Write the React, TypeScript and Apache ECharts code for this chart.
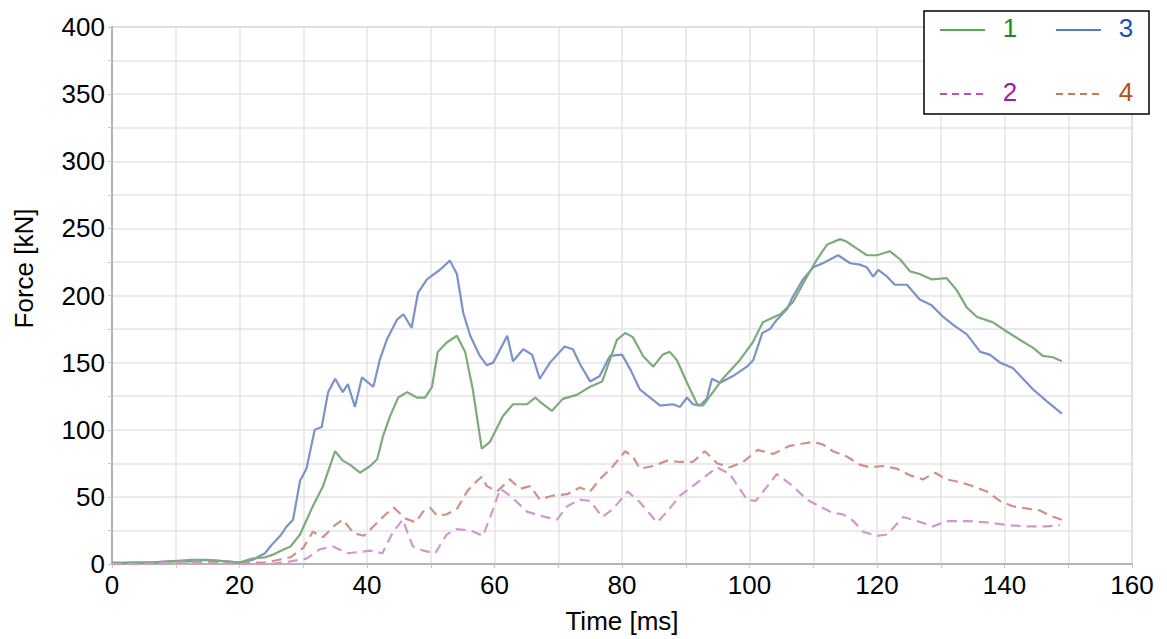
import React, { useEffect, useRef } from "react";
import * as echarts from "echarts";

const time1 = [0,3,6,9,12,15,18,20,22,24,25.3,27,28,29.5,31.5,33.1,35,36.2,37.3,38.9,40.5,41.6,42.5,43.6,44.9,46.3,47.8,49.1,50.2,51.1,52.5,54.1,55.4,56.6,58,59.3,61.3,62.9,65.1,66.4,67.1,69,70.7,72.9,75,76.9,78.1,79.2,80.5,81.7,83.3,84.9,86.4,87.5,88.6,90.2,91.8,92.7,93.8,95.8,98.5,100.5,102.1,104.8,106.8,109,110.6,112.2,114.2,115.3,116.5,118.4,120,122,123.6,125.2,126.7,128.6,130.9,132.5,134.1,135.7,138.2,140.4,142.4,144.5,146,147.6,149];
const force1 = [1,1,1,2,3,3,2,1,4,5,7,11,13,22,43,58,84,77,74,68,73,78,95,110,124,128,124,124,132,158,165,170,158,130,86,91,110,119,119,124,121,114,123,126,132,136,152,167,172,169,155,147,156,158,152,135,119,118,125,138,152,165,180,186,195,214,227,238,242,240,236,230,230,233,227,218,216,212,213,204,191,184,180,173,167,161,155,154,151];

const time3 = [0,3,6,9,12,15,18,20,22,24,25,26.4,27.4,28.4,29.5,30.5,31.8,32.9,33.9,35,36.2,37,38.1,39.2,41,42,43.1,44.7,45.7,47,48,49.4,51.4,53,54.1,55.1,56.2,57.7,58.8,59.8,62,62.9,64.5,65.9,67.1,68.7,71,72.3,73.4,75,76.5,78.1,80,81.3,82.8,84.4,86,88,89.1,90.2,91.1,92.2,93.3,94.1,95.4,97.4,99.6,100.6,102,103.2,104.3,105.9,106.8,108.4,110,111.5,113.9,115.8,117.3,118.4,119.4,120.2,121.6,122.8,124.7,126.7,128.5,130.4,132,134.1,136.2,137.7,139.3,141.3,142.9,144.5,146.7,149];
const force3 = [0,1,1,2,2,3,2,1,3,8,14,21,28,33,62,71,100,102,128,138,128,134,117,139,132,152,167,182,186,176,202,212,219,226,216,187,170,155,148,150,170,151,160,156,138,150,162,160,149,136,140,155,156,145,130,124,118,119,117,124,119,118,123,138,135,140,147,152,172,175,182,190,199,212,221,224,230,224,223,221,214,219,214,208,208,197,193,184,178,171,158,156,150,146,138,130,121,112];

const time2 = [0,5,10,15,20,25,28,30.5,32.6,34.7,36.9,38.9,40.5,42.4,44.1,45.6,47.2,48.8,50.7,52.5,54.1,56.2,58.2,59.8,60.9,62.4,65.1,67.1,69.8,71.4,73.4,75,76.9,78.6,80.9,82.8,85.5,87.1,89.1,91.1,94.9,96.9,99.6,101,104.3,106.8,109,111,113.1,114.7,116.3,117.8,120,121.6,124.1,126.3,128.8,130.9,134.1,137.2,140.4,143.5,146.7,148.7];
const force2 = [0,0,1,1,0,0,2,4,11,13,8,9,10,8,24,33,13,10,8,22,26,25,21,41,56,51,39,36,33,43,48,47,35,41,54,46,31,39,51,58,72,67,48,47,67,58,48,43,38,37,32,24,21,22,35,32,28,32,32,31,29,28,28,29];

const time4 = [0,5,10,15,20,24,26,28,30,31.5,33.1,35,36.2,37.9,39.5,41,42.7,44.2,46,47.6,48.8,49.9,51,52.5,54.1,55.7,56.6,58,58.8,60.4,62.4,64,65.6,67.1,69.2,71.4,73.4,75,76.5,78.6,80.5,81.7,82.8,84.9,87.1,89.1,91.1,93,94.9,96.9,99,101.3,103.7,106.3,110,111.5,113.1,115.3,117.3,118.9,120.9,123.1,125.2,127.2,129.1,130.9,133,135,137.2,139.3,141.3,143.9,145.5,147.1,149];
const force4 = [0,1,1,2,1,1,3,5,12,24,20,29,33,23,21,28,36,42,34,31,39,42,36,37,41,54,59,65,58,54,63,56,58,48,51,52,57,54,63,73,84,80,71,73,77,76,76,84,75,72,76,85,82,88,91,89,84,80,74,72,73,71,66,63,68,63,61,58,54,47,43,41,40,36,33];

const seriesNames = ["1", "2", "3", "4"];
const lineColors = ["#7fab7c", "#cf9acb", "#7d92c6", "#cf918a"];
const legendColors = ["#1e8a1e", "#a01ca0", "#1f4fae", "#b0501c"];

const xTicks = { min: 0, max: 160, interval: 20 };
const yTicks = { min: 0, max: 400, interval: 50 };

const FONT = "'Liberation Sans', Arial, sans-serif";

function pairs(t: number[], f: number[]) {
  return t.map((x, i) => [x, f[i]]);
}

export default function App() {
  const ref = useRef<HTMLDivElement>(null);
  useEffect(() => {
    if (!ref.current) return;
    const chart = echarts.init(ref.current, null, { renderer: "svg" });
    const datasets = [pairs(time1, force1), pairs(time2, force2), pairs(time3, force3), pairs(time4, force4)];
    const dashed = [false, true, false, true];
    const legendX = [940, 940, 1056, 1056];
    const legendY = [30, 94, 30, 94];
    const legendEls: any[] = [
      {
        type: "rect",
        shape: { x: 924, y: 11, width: 225, height: 103 },
        style: { fill: "#fff", stroke: "#000", lineWidth: 1.5 },
        z: 10,
      },
    ];
    seriesNames.forEach((n, i) => {
      legendEls.push({
        type: "line",
        shape: { x1: legendX[i], y1: legendY[i], x2: legendX[i] + 45, y2: legendY[i] },
        style: { stroke: legendColors[i], lineWidth: 1.5, lineDash: dashed[i] ? [7, 5] : null },
        z: 11,
      });
      legendEls.push({
        type: "text",
        x: legendX[i] + 70,
        y: legendY[i] - 2,
        style: {
          text: n,
          fill: legendColors[i],
          font: `26px ${FONT}`,
          textAlign: "center",
          textVerticalAlign: "middle",
        },
        z: 11,
      });
    });
    chart.setOption({
      animation: false,
      backgroundColor: "#fff",
      grid: {
        left: 112,
        right: 35,
        top: 27,
        bottom: 74,
        show: true,
        borderColor: "#c4c4c4",
        borderWidth: 1.5,
      },
      xAxis: {
        type: "value",
        min: xTicks.min,
        max: xTicks.max,
        interval: xTicks.interval,
        name: "Time [ms]",
        nameLocation: "middle",
        nameGap: 44,
        nameTextStyle: { color: "#000", fontSize: 26, fontFamily: FONT },
        axisLine: { show: true, lineStyle: { color: "#b4b4b4", width: 2 } },
        axisTick: { show: true, length: 4, lineStyle: { color: "#c4c4c4" } },
        minorTick: { show: true, splitNumber: 2, length: 4, lineStyle: { color: "#c4c4c4" } },
        axisLabel: { color: "#000", fontSize: 26, fontFamily: FONT, margin: 8 },
        splitLine: { show: true, lineStyle: { color: "#e4e4e4", width: 1.5 } },
        minorSplitLine: { show: true, lineStyle: { color: "#e4e4e4", width: 1.5 } },
      },
      yAxis: {
        type: "value",
        min: yTicks.min,
        max: yTicks.max,
        interval: yTicks.interval,
        name: "Force [kN]",
        nameLocation: "middle",
        nameGap: 75,
        nameTextStyle: { color: "#000", fontSize: 26, fontFamily: FONT, padding: [0, 0, 0, 54] },
        axisLine: { show: true, lineStyle: { color: "#b4b4b4", width: 2 } },
        axisTick: { show: true, length: 4, lineStyle: { color: "#c4c4c4" } },
        minorTick: { show: true, splitNumber: 2, length: 4, lineStyle: { color: "#c4c4c4" } },
        axisLabel: { color: "#000", fontSize: 26, fontFamily: FONT, margin: 7 },
        splitLine: { show: true, lineStyle: { color: "#e4e4e4", width: 1.5 } },
        minorSplitLine: { show: true, lineStyle: { color: "#e4e4e4", width: 1.5 } },
      },
      series: seriesNames.map((n, i) => ({
        name: n,
        type: "line",
        data: datasets[i],
        showSymbol: false,
        symbol: "none",
        lineStyle: {
          color: lineColors[i],
          width: 2.2,
          type: dashed[i] ? [10, 6] : "solid",
        },
        z: i < 2 ? 3 : 2,
      })),
      graphic: legendEls,
    });
    return () => chart.dispose();
  }, []);
  return (
    <div
      ref={ref}
      style={{ position: "fixed", left: 0, top: 0, width: 1167, height: 639 }}
    />
  );
}
